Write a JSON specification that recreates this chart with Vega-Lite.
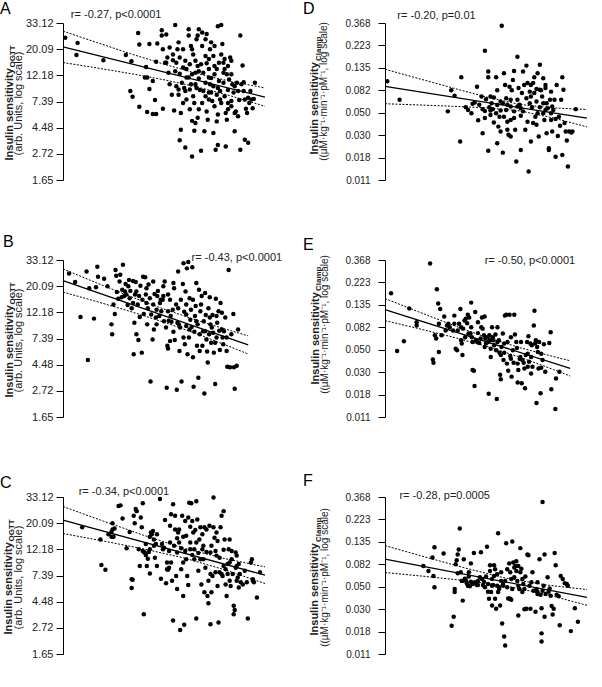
{
"$schema": "https://vega.github.io/schema/vega-lite/v6.json",
"background": "white",
"autosize": {"type": "pad"},
"padding": {"left": 0, "top": 0, "right": 0, "bottom": 0},
"columns": 2,
"spacing": {"row": 80, "column": 120},
"bounds": "flush",
"config": {
  "font": "Liberation Sans",
  "view": {"stroke": null},
  "axis": {"domainColor": "#000", "tickColor": "#000", "domainWidth": 1, "tickWidth": 1, "labelColor": "#222", "titleColor": "#222", "labelFontSize": 11, "titleFontSize": 11, "titleFontWeight": "normal", "grid": false, "labelFlush": false, "labelOverlap": false},
  "axisX": {"tickSize": 5, "titleAlign": "center", "titleBaseline": "middle"},
  "axisY": {"tickSize": 7, "labelPadding": 3, "titleAngle": 270, "titleAlign": "center", "titleBaseline": "alphabetic"},
  "title": {"fontSize": 16, "fontWeight": "normal", "color": "#000", "anchor": "start", "frame": "group", "offset": 0},
  "text": {"fontSize": 11, "color": "#222"},
  "circle": {"size": 20, "opacity": 1, "color": "#000"},
  "line": {"color": "#000"}
},
"datasets": {
"ptsA": [{"x":2.22,"y":3.22},{"x":2.33,"y":3.12},{"x":2.32,"y":2.89},{"x":2.56,"y":2.79},{"x":2.76,"y":2.89},{"x":2.81,"y":2.77},{"x":2.80,"y":2.20},{"x":2.82,"y":2.09},{"x":2.87,"y":3.31},{"x":2.88,"y":3.09},{"x":2.88,"y":1.90},{"x":2.94,"y":2.66},{"x":2.93,"y":2.46},{"x":2.97,"y":3.10},{"x":2.97,"y":2.24},{"x":3.02,"y":2.03},{"x":3.03,"y":2.76},{"x":3.04,"y":3.11},{"x":2.95,"y":1.80},{"x":3.00,"y":1.76},{"x":3.03,"y":1.76},{"x":3.00,"y":2.39},{"x":2.95,"y":2.46},{"x":3.08,"y":3.26},{"x":3.08,"y":3.36},{"x":3.09,"y":3.00},{"x":3.11,"y":2.74},{"x":3.12,"y":3.28},{"x":3.13,"y":2.84},{"x":3.14,"y":2.55},{"x":3.15,"y":2.33},{"x":3.09,"y":1.86},{"x":3.18,"y":2.90},{"x":3.18,"y":2.79},{"x":3.17,"y":2.13},{"x":3.19,"y":1.83},{"x":3.20,"y":3.46},{"x":3.21,"y":2.74},{"x":3.22,"y":3.00},{"x":3.23,"y":2.23},{"x":3.23,"y":2.13},{"x":3.24,"y":2.53},{"x":3.24,"y":1.26},{"x":3.25,"y":1.78},{"x":3.25,"y":1.46},{"x":3.26,"y":2.36},{"x":3.27,"y":2.65},{"x":3.27,"y":3.00},{"x":3.28,"y":2.26},{"x":3.29,"y":1.12},{"x":3.29,"y":2.20},{"x":3.30,"y":2.46},{"x":3.30,"y":2.04},{"x":3.32,"y":3.26},{"x":3.32,"y":3.38},{"x":3.33,"y":2.71},{"x":3.34,"y":3.06},{"x":3.34,"y":2.33},{"x":3.35,"y":1.63},{"x":3.35,"y":0.95},{"x":3.36,"y":2.10},{"x":3.37,"y":1.97},{"x":3.37,"y":1.44},{"x":3.38,"y":2.55},{"x":3.38,"y":2.78},{"x":3.39,"y":3.19},{"x":3.40,"y":3.26},{"x":3.40,"y":2.68},{"x":3.40,"y":1.69},{"x":3.41,"y":3.38},{"x":3.41,"y":2.44},{"x":3.42,"y":2.22},{"x":3.43,"y":1.06},{"x":3.44,"y":3.06},{"x":3.44,"y":1.97},{"x":3.45,"y":2.20},{"x":3.46,"y":1.43},{"x":3.47,"y":3.19},{"x":3.47,"y":2.87},{"x":3.47,"y":2.36},{"x":3.48,"y":2.73},{"x":3.49,"y":1.65},{"x":3.50,"y":2.62},{"x":3.50,"y":2.04},{"x":3.50,"y":2.17},{"x":3.51,"y":3.00},{"x":3.52,"y":2.45},{"x":3.52,"y":3.13},{"x":3.53,"y":2.01},{"x":3.54,"y":2.87},{"x":3.54,"y":2.29},{"x":3.55,"y":2.68},{"x":3.55,"y":1.91},{"x":3.56,"y":1.08},{"x":3.57,"y":2.13},{"x":3.57,"y":1.62},{"x":3.58,"y":1.17},{"x":3.58,"y":3.44},{"x":3.59,"y":2.74},{"x":3.59,"y":2.39},{"x":3.60,"y":2.04},{"x":3.61,"y":2.90},{"x":3.61,"y":3.46},{"x":3.62,"y":3.10},{"x":3.63,"y":2.55},{"x":3.63,"y":2.36},{"x":3.64,"y":2.62},{"x":3.64,"y":2.81},{"x":3.65,"y":1.78},{"x":3.65,"y":1.14},{"x":3.66,"y":1.65},{"x":3.67,"y":2.22},{"x":3.67,"y":1.97},{"x":3.68,"y":2.42},{"x":3.69,"y":2.84},{"x":3.70,"y":2.01},{"x":3.70,"y":2.52},{"x":3.71,"y":2.33},{"x":3.72,"y":2.17},{"x":3.73,"y":1.43},{"x":3.73,"y":1.78},{"x":3.74,"y":1.81},{"x":3.75,"y":2.36},{"x":3.76,"y":1.72},{"x":3.77,"y":2.03},{"x":3.78,"y":3.26},{"x":3.78,"y":1.08},{"x":3.79,"y":2.33},{"x":3.80,"y":2.69},{"x":3.81,"y":2.37},{"x":3.82,"y":1.27},{"x":3.82,"y":2.04},{"x":3.83,"y":1.86},{"x":3.84,"y":1.78},{"x":3.85,"y":2.07},{"x":3.85,"y":1.21},{"x":3.86,"y":1.97},{"x":3.88,"y":2.04},{"x":3.89,"y":1.87},{"x":3.90,"y":2.05},{"x":3.91,"y":2.36},{"x":3.12,"y":2.74},{"x":3.15,"y":3.03},{"x":3.23,"y":3.13},{"x":3.24,"y":2.84},{"x":3.29,"y":2.78},{"x":3.30,"y":2.62},{"x":3.32,"y":2.46},{"x":3.33,"y":2.23},{"x":3.35,"y":2.52},{"x":3.36,"y":2.90},{"x":3.38,"y":2.33},{"x":3.39,"y":2.26},{"x":3.41,"y":2.58},{"x":3.43,"y":2.71},{"x":3.45,"y":2.55},{"x":3.47,"y":2.10},{"x":3.48,"y":1.81},{"x":3.50,"y":2.46},{"x":3.51,"y":2.33},{"x":3.52,"y":2.17},{"x":3.55,"y":2.52},{"x":3.57,"y":2.62},{"x":3.58,"y":2.26},{"x":3.60,"y":2.20},{"x":3.61,"y":1.97},{"x":3.63,"y":2.74},{"x":3.64,"y":2.10},{"x":3.66,"y":2.52},{"x":3.67,"y":2.68},{"x":3.70,"y":1.91},{"x":3.73,"y":2.29},{"x":3.76,"y":2.20},{"x":3.67,"y":1.85},{"x":3.41,"y":1.85},{"x":3.33,"y":1.85},{"x":3.27,"y":1.97},{"x":3.21,"y":2.29},{"x":3.20,"y":2.58},{"x":3.44,"y":3.32},{"x":3.35,"y":3.00},{"x":3.55,"y":3.06},{"x":3.48,"y":3.29},{"x":3.70,"y":2.78},{"x":3.58,"y":1.75},{"x":3.54,"y":1.40},{"x":3.81,"y":2.20},{"x":3.87,"y":2.20},{"x":3.50,"y":2.81},{"x":3.38,"y":1.59}],
"fitA": [{"x":2.2,"y":3.045},{"x":4.0,"y":2.083}],
"bandA": [{"x":2.2,"y":3.345,"bound":"upper"},{"x":2.5,"y":3.128,"bound":"upper"},{"x":2.8,"y":2.914,"bound":"upper"},{"x":3.1,"y":2.713,"bound":"upper"},{"x":3.4,"y":2.532,"bound":"upper"},{"x":3.7,"y":2.382,"bound":"upper"},{"x":4.0,"y":2.258,"bound":"upper"},{"x":2.2,"y":2.745,"bound":"lower"},{"x":2.5,"y":2.642,"bound":"lower"},{"x":2.8,"y":2.534,"bound":"lower"},{"x":3.1,"y":2.415,"bound":"lower"},{"x":3.4,"y":2.276,"bound":"lower"},{"x":3.7,"y":2.104,"bound":"lower"},{"x":4.0,"y":1.908,"bound":"lower"}],
"ptsD": [{"x":2.22,"y":-2.30},{"x":2.33,"y":-2.71},{"x":2.76,"y":-2.97},{"x":2.79,"y":-2.50},{"x":2.82,"y":-2.62},{"x":2.88,"y":-2.21},{"x":2.87,"y":-3.64},{"x":2.92,"y":-2.88},{"x":2.94,"y":-2.94},{"x":2.97,"y":-3.01},{"x":2.98,"y":-2.80},{"x":3.00,"y":-2.77},{"x":3.02,"y":-2.42},{"x":3.03,"y":-3.17},{"x":3.04,"y":-2.82},{"x":3.07,"y":-2.92},{"x":3.09,"y":-1.62},{"x":3.09,"y":-3.12},{"x":3.09,"y":-2.96},{"x":3.10,"y":-2.70},{"x":3.12,"y":-2.08},{"x":3.12,"y":-2.21},{"x":3.12,"y":-3.85},{"x":3.13,"y":-2.88},{"x":3.14,"y":-2.95},{"x":3.14,"y":-2.64},{"x":3.15,"y":-2.79},{"x":3.16,"y":-2.92},{"x":3.17,"y":-3.22},{"x":3.17,"y":-2.66},{"x":3.19,"y":-2.21},{"x":3.20,"y":-2.83},{"x":3.20,"y":-2.50},{"x":3.21,"y":-3.31},{"x":3.22,"y":-3.09},{"x":3.23,"y":-3.42},{"x":3.23,"y":-2.75},{"x":3.24,"y":-1.06},{"x":3.25,"y":-3.89},{"x":3.25,"y":-2.79},{"x":3.26,"y":-2.12},{"x":3.27,"y":-2.38},{"x":3.28,"y":-2.94},{"x":3.29,"y":-3.20},{"x":3.29,"y":-3.38},{"x":3.30,"y":-3.49},{"x":3.31,"y":-2.42},{"x":3.32,"y":-2.71},{"x":3.32,"y":-2.86},{"x":3.33,"y":-2.50},{"x":3.34,"y":-2.27},{"x":3.35,"y":-3.12},{"x":3.35,"y":-2.07},{"x":3.36,"y":-3.38},{"x":3.37,"y":-4.09},{"x":3.38,"y":-2.71},{"x":3.38,"y":-1.75},{"x":3.39,"y":-2.45},{"x":3.40,"y":-2.82},{"x":3.41,"y":-3.07},{"x":3.41,"y":-3.83},{"x":3.42,"y":-2.56},{"x":3.43,"y":-2.08},{"x":3.43,"y":-2.97},{"x":3.44,"y":-2.38},{"x":3.45,"y":-3.38},{"x":3.46,"y":-1.95},{"x":3.46,"y":-2.68},{"x":3.47,"y":-3.20},{"x":3.48,"y":-4.31},{"x":3.49,"y":-2.79},{"x":3.49,"y":-2.53},{"x":3.50,"y":-3.64},{"x":3.51,"y":-2.88},{"x":3.52,"y":-2.34},{"x":3.53,"y":-2.21},{"x":3.53,"y":-2.56},{"x":3.54,"y":-3.09},{"x":3.55,"y":-2.75},{"x":3.55,"y":-2.47},{"x":3.56,"y":-3.01},{"x":3.57,"y":-3.53},{"x":3.58,"y":-1.93},{"x":3.58,"y":-2.88},{"x":3.59,"y":-2.50},{"x":3.60,"y":-2.64},{"x":3.61,"y":-2.23},{"x":3.61,"y":-2.79},{"x":3.62,"y":-3.16},{"x":3.63,"y":-2.45},{"x":3.63,"y":-2.94},{"x":3.64,"y":-3.46},{"x":3.65,"y":-2.90},{"x":3.66,"y":-3.79},{"x":3.66,"y":-3.83},{"x":3.67,"y":-2.71},{"x":3.68,"y":-3.16},{"x":3.69,"y":-3.42},{"x":3.69,"y":-2.86},{"x":3.70,"y":-2.94},{"x":3.71,"y":-2.71},{"x":3.72,"y":-3.14},{"x":3.72,"y":-3.98},{"x":3.73,"y":-2.38},{"x":3.74,"y":-3.52},{"x":3.75,"y":-3.09},{"x":3.76,"y":-3.29},{"x":3.77,"y":-2.71},{"x":3.78,"y":-2.21},{"x":3.78,"y":-3.94},{"x":3.79,"y":-2.49},{"x":3.80,"y":-3.23},{"x":3.81,"y":-3.42},{"x":3.82,"y":-3.62},{"x":3.83,"y":-4.20},{"x":3.84,"y":-3.42},{"x":3.86,"y":-3.44},{"x":3.87,"y":-3.42},{"x":3.90,"y":-2.92},{"x":3.23,"y":-2.95},{"x":3.19,"y":-3.01},{"x":3.26,"y":-3.09},{"x":3.35,"y":-2.97},{"x":3.50,"y":-2.38},{"x":3.55,"y":-3.27},{"x":3.58,"y":-2.49},{"x":3.61,"y":-3.01},{"x":3.47,"y":-2.34},{"x":3.38,"y":-2.86},{"x":3.14,"y":-3.05},{"x":3.32,"y":-3.16},{"x":3.50,"y":-2.64},{"x":3.64,"y":-2.79},{"x":3.56,"y":-2.12},{"x":3.63,"y":-2.38},{"x":3.68,"y":-2.53},{"x":3.52,"y":-3.23},{"x":3.29,"y":-2.82},{"x":3.41,"y":-2.90},{"x":3.20,"y":-3.68},{"x":3.07,"y":-3.46},{"x":3.32,"y":-3.53},{"x":3.06,"y":-2.64},{"x":3.28,"y":-2.68},{"x":3.68,"y":-3.01}],
"fitD": [{"x":2.2,"y":-2.415},{"x":4.0,"y":-3.122}],
"bandD": [{"x":2.2,"y":-2.030,"bound":"upper"},{"x":2.5,"y":-2.239,"bound":"upper"},{"x":2.8,"y":-2.446,"bound":"upper"},{"x":3.1,"y":-2.647,"bound":"upper"},{"x":3.4,"y":-2.816,"bound":"upper"},{"x":3.7,"y":-2.893,"bound":"upper"},{"x":4.0,"y":-2.929,"bound":"upper"},{"x":2.2,"y":-2.800,"bound":"lower"},{"x":2.5,"y":-2.827,"bound":"lower"},{"x":2.8,"y":-2.856,"bound":"lower"},{"x":3.1,"y":-2.891,"bound":"lower"},{"x":3.4,"y":-2.958,"bound":"lower"},{"x":3.7,"y":-3.117,"bound":"lower"},{"x":4.0,"y":-3.315,"bound":"lower"}],
"ptsB": [{"x":-0.41,"y":3.24},{"x":-0.32,"y":3.08},{"x":-0.24,"y":2.41},{"x":-0.15,"y":3.28},{"x":-0.13,"y":1.59},{"x":-0.11,"y":2.96},{"x":-0.04,"y":2.38},{"x":-0.01,"y":2.98},{"x":0.01,"y":3.37},{"x":0.02,"y":3.18},{"x":0.11,"y":3.14},{"x":0.16,"y":3.00},{"x":0.22,"y":2.27},{"x":0.23,"y":2.08},{"x":0.25,"y":2.65},{"x":0.27,"y":2.47},{"x":0.28,"y":3.31},{"x":0.29,"y":3.20},{"x":0.30,"y":2.89},{"x":0.32,"y":2.76},{"x":0.34,"y":3.09},{"x":0.35,"y":3.22},{"x":0.37,"y":2.79},{"x":0.38,"y":2.93},{"x":0.39,"y":3.41},{"x":0.41,"y":2.81},{"x":0.42,"y":2.90},{"x":0.43,"y":3.04},{"x":0.44,"y":2.84},{"x":0.46,"y":2.64},{"x":0.48,"y":3.12},{"x":0.49,"y":2.77},{"x":0.50,"y":2.91},{"x":0.52,"y":2.58},{"x":0.54,"y":3.10},{"x":0.55,"y":1.70},{"x":0.56,"y":2.30},{"x":0.57,"y":2.84},{"x":0.58,"y":3.08},{"x":0.59,"y":2.08},{"x":0.61,"y":2.65},{"x":0.62,"y":1.97},{"x":0.63,"y":2.81},{"x":0.64,"y":2.41},{"x":0.65,"y":3.01},{"x":0.67,"y":1.73},{"x":0.68,"y":2.74},{"x":0.69,"y":3.18},{"x":0.70,"y":2.47},{"x":0.72,"y":3.17},{"x":0.73,"y":2.84},{"x":0.74,"y":2.68},{"x":0.75,"y":2.27},{"x":0.76,"y":2.58},{"x":0.77,"y":3.03},{"x":0.79,"y":2.77},{"x":0.80,"y":1.18},{"x":0.81,"y":2.46},{"x":0.83,"y":1.98},{"x":0.84,"y":2.65},{"x":0.85,"y":2.17},{"x":0.86,"y":2.85},{"x":0.88,"y":2.40},{"x":0.89,"y":2.55},{"x":0.90,"y":2.81},{"x":0.91,"y":2.91},{"x":0.93,"y":2.43},{"x":0.94,"y":2.68},{"x":0.95,"y":2.74},{"x":0.96,"y":2.52},{"x":0.98,"y":2.74},{"x":0.99,"y":3.00},{"x":1.00,"y":2.33},{"x":1.01,"y":3.09},{"x":1.03,"y":2.21},{"x":1.04,"y":1.06},{"x":1.05,"y":1.86},{"x":1.06,"y":1.81},{"x":1.06,"y":2.52},{"x":1.07,"y":2.34},{"x":1.09,"y":2.74},{"x":1.10,"y":2.43},{"x":1.11,"y":2.32},{"x":1.13,"y":2.55},{"x":1.14,"y":2.13},{"x":1.15,"y":2.96},{"x":1.16,"y":1.97},{"x":1.18,"y":2.65},{"x":1.19,"y":1.02},{"x":1.20,"y":2.30},{"x":1.21,"y":3.28},{"x":1.22,"y":2.27},{"x":1.23,"y":1.76},{"x":1.24,"y":2.21},{"x":1.25,"y":2.74},{"x":1.26,"y":1.18},{"x":1.28,"y":3.04},{"x":1.29,"y":3.44},{"x":1.30,"y":2.51},{"x":1.31,"y":1.89},{"x":1.32,"y":2.90},{"x":1.33,"y":2.24},{"x":1.33,"y":2.46},{"x":1.34,"y":3.34},{"x":1.35,"y":1.70},{"x":1.36,"y":3.46},{"x":1.37,"y":2.02},{"x":1.38,"y":2.77},{"x":1.39,"y":2.36},{"x":1.40,"y":2.55},{"x":1.41,"y":2.22},{"x":1.42,"y":3.36},{"x":1.43,"y":2.74},{"x":1.44,"y":1.08},{"x":1.45,"y":2.13},{"x":1.46,"y":2.43},{"x":1.47,"y":2.62},{"x":1.48,"y":3.06},{"x":1.49,"y":1.86},{"x":1.50,"y":2.27},{"x":1.51,"y":1.25},{"x":1.52,"y":2.93},{"x":1.53,"y":2.08},{"x":1.54,"y":2.52},{"x":1.55,"y":2.65},{"x":1.56,"y":2.81},{"x":1.57,"y":1.86},{"x":1.58,"y":2.14},{"x":1.59,"y":2.33},{"x":1.60,"y":0.95},{"x":1.61,"y":2.87},{"x":1.62,"y":2.45},{"x":1.63,"y":1.98},{"x":1.64,"y":1.75},{"x":1.65,"y":1.54},{"x":1.66,"y":2.58},{"x":1.67,"y":2.08},{"x":1.68,"y":2.79},{"x":1.69,"y":2.27},{"x":1.70,"y":1.92},{"x":1.71,"y":2.21},{"x":1.72,"y":2.45},{"x":1.73,"y":2.11},{"x":1.74,"y":1.73},{"x":1.76,"y":1.13},{"x":1.77,"y":2.76},{"x":1.78,"y":2.02},{"x":1.79,"y":2.30},{"x":1.81,"y":2.52},{"x":1.82,"y":2.15},{"x":1.83,"y":1.78},{"x":1.84,"y":2.68},{"x":1.86,"y":2.17},{"x":1.87,"y":2.02},{"x":1.88,"y":1.89},{"x":1.89,"y":2.14},{"x":1.91,"y":2.40},{"x":1.93,"y":2.02},{"x":1.94,"y":1.46},{"x":1.96,"y":3.31},{"x":1.98,"y":1.45},{"x":2.00,"y":2.08},{"x":2.03,"y":2.47},{"x":2.04,"y":1.45},{"x":2.05,"y":1.04},{"x":2.08,"y":1.48},{"x":2.10,"y":2.17},{"x":1.14,"y":3.06},{"x":0.99,"y":2.81},{"x":0.74,"y":2.96},{"x":0.59,"y":2.90},{"x":1.48,"y":2.33},{"x":1.33,"y":2.65},{"x":1.68,"y":2.40},{"x":1.53,"y":1.76},{"x":1.38,"y":2.17},{"x":1.29,"y":2.02},{"x":1.09,"y":1.95},{"x":0.89,"y":2.27},{"x":0.84,"y":3.09},{"x":0.47,"y":3.00},{"x":0.54,"y":2.68},{"x":1.78,"y":2.43},{"x":1.93,"y":1.76},{"x":1.76,"y":1.92},{"x":1.61,"y":2.14},{"x":1.21,"y":2.58},{"x":1.06,"y":2.84},{"x":1.43,"y":1.64},{"x":1.86,"y":2.49}],
"fitB": [{"x":-0.5,"y":3.108},{"x":2.25,"y":1.877}],
"bandB": [{"x":-0.5,"y":3.329,"bound":"upper"},{"x":0,"y":3.062,"bound":"upper"},{"x":0.5,"y":2.803,"bound":"upper"},{"x":1.0,"y":2.562,"bound":"upper"},{"x":1.5,"y":2.343,"bound":"upper"},{"x":2.0,"y":2.145,"bound":"upper"},{"x":2.25,"y":2.051,"bound":"upper"},{"x":-0.5,"y":2.887,"bound":"lower"},{"x":0,"y":2.706,"bound":"lower"},{"x":0.5,"y":2.517,"bound":"lower"},{"x":1.0,"y":2.312,"bound":"lower"},{"x":1.5,"y":2.083,"bound":"lower"},{"x":2.0,"y":1.833,"bound":"lower"},{"x":2.25,"y":1.703,"bound":"lower"}],
"ptsE": [{"x":-0.41,"y":-1.74},{"x":-0.32,"y":-3.03},{"x":-0.22,"y":-2.81},{"x":-0.14,"y":-2.08},{"x":-0.03,"y":-2.39},{"x":-0.03,"y":-2.46},{"x":0.17,"y":-1.08},{"x":0.21,"y":-3.22},{"x":0.22,"y":-3.29},{"x":0.24,"y":-2.68},{"x":0.26,"y":-2.75},{"x":0.27,"y":-1.65},{"x":0.29,"y":-1.97},{"x":0.30,"y":-2.42},{"x":0.30,"y":-3.05},{"x":0.32,"y":-2.09},{"x":0.34,"y":-2.68},{"x":0.38,"y":-2.26},{"x":0.40,"y":-2.57},{"x":0.42,"y":-2.46},{"x":0.44,"y":-2.42},{"x":0.46,"y":-2.50},{"x":0.51,"y":-2.57},{"x":0.53,"y":-2.24},{"x":0.55,"y":-2.98},{"x":0.57,"y":-3.01},{"x":0.58,"y":-2.57},{"x":0.60,"y":-2.42},{"x":0.62,"y":-2.09},{"x":0.63,"y":-2.79},{"x":0.64,"y":-2.86},{"x":0.65,"y":-3.12},{"x":0.66,"y":-2.53},{"x":0.68,"y":-2.35},{"x":0.69,"y":-2.72},{"x":0.70,"y":-2.31},{"x":0.72,"y":-2.41},{"x":0.73,"y":-2.22},{"x":0.74,"y":-2.64},{"x":0.75,"y":-2.28},{"x":0.77,"y":-2.64},{"x":0.78,"y":-1.95},{"x":0.79,"y":-2.72},{"x":0.80,"y":-2.83},{"x":0.80,"y":-3.45},{"x":0.82,"y":-3.47},{"x":0.83,"y":-3.81},{"x":0.84,"y":-2.16},{"x":0.85,"y":-2.79},{"x":0.87,"y":-2.83},{"x":0.88,"y":-2.63},{"x":0.90,"y":-2.85},{"x":0.92,"y":-2.75},{"x":0.93,"y":-2.50},{"x":0.94,"y":-2.28},{"x":0.95,"y":-2.53},{"x":0.97,"y":-2.68},{"x":0.98,"y":-2.26},{"x":0.99,"y":-2.75},{"x":1.00,"y":-2.86},{"x":1.02,"y":-2.72},{"x":1.03,"y":-2.83},{"x":1.04,"y":-3.98},{"x":1.05,"y":-2.68},{"x":1.06,"y":-2.79},{"x":1.07,"y":-3.16},{"x":1.09,"y":-2.50},{"x":1.10,"y":-2.72},{"x":1.11,"y":-2.79},{"x":1.12,"y":-2.90},{"x":1.14,"y":-2.66},{"x":1.15,"y":-3.01},{"x":1.16,"y":-4.10},{"x":1.17,"y":-2.83},{"x":1.19,"y":-2.79},{"x":1.20,"y":-3.07},{"x":1.21,"y":-3.56},{"x":1.22,"y":-3.66},{"x":1.23,"y":-2.94},{"x":1.25,"y":-2.64},{"x":1.26,"y":-3.23},{"x":1.27,"y":-3.07},{"x":1.28,"y":-2.24},{"x":1.30,"y":-2.22},{"x":1.31,"y":-3.31},{"x":1.32,"y":-2.83},{"x":1.33,"y":-3.47},{"x":1.35,"y":-2.22},{"x":1.36,"y":-3.14},{"x":1.37,"y":-3.20},{"x":1.38,"y":-3.60},{"x":1.40,"y":-3.01},{"x":1.41,"y":-3.29},{"x":1.42,"y":-2.22},{"x":1.43,"y":-2.66},{"x":1.45,"y":-2.83},{"x":1.46,"y":-2.96},{"x":1.47,"y":-3.73},{"x":1.48,"y":-3.45},{"x":1.50,"y":-3.20},{"x":1.51,"y":-3.16},{"x":1.52,"y":-2.83},{"x":1.53,"y":-3.75},{"x":1.54,"y":-3.23},{"x":1.56,"y":-3.29},{"x":1.57,"y":-3.42},{"x":1.58,"y":-3.86},{"x":1.59,"y":-3.12},{"x":1.61,"y":-2.83},{"x":1.62,"y":-3.38},{"x":1.63,"y":-2.70},{"x":1.64,"y":-3.27},{"x":1.66,"y":-2.86},{"x":1.67,"y":-3.16},{"x":1.68,"y":-2.90},{"x":1.69,"y":-3.38},{"x":1.71,"y":-2.46},{"x":1.72,"y":-2.13},{"x":1.73,"y":-2.86},{"x":1.74,"y":-2.79},{"x":1.75,"y":-4.19},{"x":1.76,"y":-2.94},{"x":1.77,"y":-3.05},{"x":1.78,"y":-3.42},{"x":1.79,"y":-2.83},{"x":1.81,"y":-3.97},{"x":1.82,"y":-3.40},{"x":1.84,"y":-3.23},{"x":1.86,"y":-2.88},{"x":1.88,"y":-3.49},{"x":1.94,"y":-2.85},{"x":1.96,"y":-2.61},{"x":1.97,"y":-3.88},{"x":2.03,"y":-4.32},{"x":2.04,"y":-3.64},{"x":2.09,"y":-3.49},{"x":0.78,"y":-2.50},{"x":0.98,"y":-2.94},{"x":1.17,"y":-2.50},{"x":1.37,"y":-2.72},{"x":1.62,"y":-3.09},{"x":0.88,"y":-2.39},{"x":1.07,"y":-2.98},{"x":1.27,"y":-2.86},{"x":1.47,"y":-3.31},{"x":1.67,"y":-3.53},{"x":0.53,"y":-2.42},{"x":0.63,"y":-2.50},{"x":1.22,"y":-3.12},{"x":1.82,"y":-3.09}],
"fitE": [{"x":-0.5,"y":-2.105},{"x":2.25,"y":-3.417}],
"bandE": [{"x":-0.5,"y":-1.859,"bound":"upper"},{"x":0,"y":-2.156,"bound":"upper"},{"x":0.5,"y":-2.448,"bound":"upper"},{"x":1.0,"y":-2.720,"bound":"upper"},{"x":1.5,"y":-2.953,"bound":"upper"},{"x":2.0,"y":-3.153,"bound":"upper"},{"x":2.25,"y":-3.247,"bound":"upper"},{"x":-0.5,"y":-2.351,"bound":"lower"},{"x":0,"y":-2.530,"bound":"lower"},{"x":0.5,"y":-2.716,"bound":"lower"},{"x":1.0,"y":-2.920,"bound":"lower"},{"x":1.5,"y":-3.163,"bound":"lower"},{"x":2.0,"y":-3.441,"bound":"lower"},{"x":2.25,"y":-3.587,"bound":"lower"}],
"ptsC": [{"x":1.39,"y":2.92},{"x":1.57,"y":2.69},{"x":1.58,"y":2.20},{"x":1.62,"y":2.11},{"x":1.65,"y":2.79},{"x":1.68,"y":2.83},{"x":1.68,"y":2.74},{"x":1.69,"y":3.00},{"x":1.69,"y":2.88},{"x":1.70,"y":2.74},{"x":1.71,"y":2.90},{"x":1.75,"y":3.33},{"x":1.77,"y":3.34},{"x":1.79,"y":3.09},{"x":1.83,"y":2.52},{"x":1.86,"y":2.83},{"x":1.88,"y":1.76},{"x":1.88,"y":1.93},{"x":1.89,"y":1.92},{"x":1.90,"y":3.14},{"x":1.91,"y":3.00},{"x":1.92,"y":3.27},{"x":1.93,"y":3.23},{"x":1.95,"y":2.50},{"x":1.96,"y":2.18},{"x":1.97,"y":3.11},{"x":1.98,"y":2.92},{"x":1.99,"y":3.38},{"x":1.99,"y":2.47},{"x":2.00,"y":1.26},{"x":2.00,"y":2.45},{"x":2.01,"y":2.44},{"x":2.02,"y":2.60},{"x":2.02,"y":2.39},{"x":2.03,"y":2.18},{"x":2.04,"y":2.32},{"x":2.05,"y":2.45},{"x":2.06,"y":2.04},{"x":2.06,"y":2.74},{"x":2.07,"y":2.82},{"x":2.08,"y":2.79},{"x":2.09,"y":2.85},{"x":2.10,"y":2.69},{"x":2.10,"y":2.57},{"x":2.11,"y":2.34},{"x":2.12,"y":2.60},{"x":2.13,"y":2.79},{"x":2.16,"y":3.46},{"x":2.17,"y":1.94},{"x":2.18,"y":2.60},{"x":2.19,"y":2.50},{"x":2.20,"y":2.53},{"x":2.21,"y":3.06},{"x":2.22,"y":1.85},{"x":2.23,"y":2.12},{"x":2.23,"y":2.25},{"x":2.24,"y":2.11},{"x":2.25,"y":2.47},{"x":2.25,"y":2.15},{"x":2.26,"y":2.95},{"x":2.27,"y":2.25},{"x":2.27,"y":3.17},{"x":2.28,"y":1.90},{"x":2.29,"y":1.14},{"x":2.29,"y":3.36},{"x":2.30,"y":2.57},{"x":2.31,"y":3.14},{"x":2.31,"y":2.88},{"x":2.32,"y":1.99},{"x":2.33,"y":2.71},{"x":2.33,"y":1.74},{"x":2.34,"y":2.82},{"x":2.35,"y":2.63},{"x":2.35,"y":2.88},{"x":2.36,"y":0.96},{"x":2.37,"y":2.12},{"x":2.37,"y":2.52},{"x":2.38,"y":3.14},{"x":2.39,"y":2.74},{"x":2.39,"y":1.61},{"x":2.40,"y":1.06},{"x":2.41,"y":2.47},{"x":2.41,"y":3.04},{"x":2.42,"y":2.31},{"x":2.42,"y":2.76},{"x":2.43,"y":1.99},{"x":2.44,"y":3.11},{"x":2.44,"y":1.82},{"x":2.45,"y":3.39},{"x":2.46,"y":2.93},{"x":2.46,"y":2.63},{"x":2.47,"y":3.38},{"x":2.48,"y":2.39},{"x":2.48,"y":3.04},{"x":2.49,"y":2.82},{"x":2.50,"y":2.31},{"x":2.50,"y":2.50},{"x":2.51,"y":2.87},{"x":2.52,"y":3.42},{"x":2.52,"y":1.18},{"x":2.53,"y":3.07},{"x":2.54,"y":2.09},{"x":2.54,"y":2.43},{"x":2.55,"y":2.69},{"x":2.56,"y":2.92},{"x":2.56,"y":2.31},{"x":2.57,"y":1.83},{"x":2.58,"y":2.50},{"x":2.58,"y":2.79},{"x":2.59,"y":2.57},{"x":2.60,"y":2.92},{"x":2.60,"y":1.68},{"x":2.61,"y":2.15},{"x":2.62,"y":2.45},{"x":2.62,"y":2.88},{"x":2.63,"y":1.61},{"x":2.64,"y":1.90},{"x":2.64,"y":1.47},{"x":2.65,"y":2.95},{"x":2.66,"y":2.03},{"x":2.66,"y":1.07},{"x":2.67,"y":1.68},{"x":2.67,"y":2.57},{"x":2.68,"y":1.99},{"x":2.69,"y":2.92},{"x":2.69,"y":3.49},{"x":2.70,"y":2.72},{"x":2.71,"y":2.06},{"x":2.71,"y":2.47},{"x":2.72,"y":2.82},{"x":2.73,"y":1.80},{"x":2.73,"y":2.66},{"x":2.74,"y":1.10},{"x":2.75,"y":2.34},{"x":2.75,"y":2.06},{"x":2.76,"y":2.92},{"x":2.77,"y":2.03},{"x":2.77,"y":3.14},{"x":2.78,"y":1.99},{"x":2.79,"y":2.49},{"x":2.79,"y":3.23},{"x":2.80,"y":2.69},{"x":2.81,"y":2.12},{"x":2.81,"y":1.83},{"x":2.82,"y":1.61},{"x":2.83,"y":2.03},{"x":2.83,"y":2.22},{"x":2.84,"y":2.50},{"x":2.85,"y":1.90},{"x":2.85,"y":2.69},{"x":2.86,"y":1.80},{"x":2.87,"y":2.47},{"x":2.87,"y":2.31},{"x":2.88,"y":2.03},{"x":2.89,"y":1.42},{"x":2.89,"y":1.26},{"x":2.90,"y":1.34},{"x":2.91,"y":2.15},{"x":2.91,"y":2.44},{"x":2.92,"y":1.90},{"x":2.92,"y":2.38},{"x":2.93,"y":1.96},{"x":2.94,"y":2.22},{"x":2.94,"y":1.77},{"x":2.95,"y":2.03},{"x":2.96,"y":1.87},{"x":2.98,"y":1.83},{"x":3.00,"y":2.09},{"x":3.02,"y":1.87},{"x":3.03,"y":1.18},{"x":3.06,"y":2.25},{"x":3.07,"y":2.31},{"x":3.08,"y":1.93},{"x":3.08,"y":1.90},{"x":3.09,"y":1.87},{"x":3.12,"y":1.58},{"x":3.15,"y":2.06},{"x":2.33,"y":2.44},{"x":2.46,"y":2.50},{"x":2.59,"y":2.31},{"x":2.72,"y":2.38},{"x":2.85,"y":2.25},{"x":2.26,"y":2.63},{"x":2.39,"y":2.25},{"x":2.52,"y":2.63},{"x":2.66,"y":2.44},{"x":2.79,"y":2.18},{"x":2.92,"y":2.18},{"x":2.13,"y":2.18},{"x":2.06,"y":2.50}],
"fitC": [{"x":1.2,"y":3.060},{"x":3.2,"y":2.006}],
"bandC": [{"x":1.2,"y":3.318,"bound":"upper"},{"x":1.6,"y":3.039,"bound":"upper"},{"x":2.0,"y":2.768,"bound":"upper"},{"x":2.4,"y":2.520,"bound":"upper"},{"x":2.8,"y":2.324,"bound":"upper"},{"x":3.2,"y":2.165,"bound":"upper"},{"x":1.2,"y":2.802,"bound":"lower"},{"x":1.6,"y":2.659,"bound":"lower"},{"x":2.0,"y":2.508,"bound":"lower"},{"x":2.4,"y":2.334,"bound":"lower"},{"x":2.8,"y":2.110,"bound":"lower"},{"x":3.2,"y":1.847,"bound":"lower"}],
"ptsF": [{"x":1.58,"y":-2.54},{"x":1.63,"y":-2.65},{"x":1.67,"y":-2.35},{"x":1.68,"y":-2.76},{"x":1.69,"y":-2.12},{"x":1.69,"y":-3.01},{"x":1.78,"y":-2.26},{"x":1.86,"y":-3.87},{"x":1.88,"y":-3.67},{"x":1.89,"y":-3.05},{"x":1.89,"y":-3.12},{"x":1.90,"y":-2.50},{"x":1.91,"y":-2.41},{"x":1.92,"y":-2.28},{"x":1.92,"y":-2.70},{"x":1.93,"y":-2.17},{"x":1.94,"y":-1.70},{"x":1.95,"y":-2.68},{"x":1.96,"y":-2.87},{"x":1.97,"y":-2.87},{"x":1.97,"y":-3.31},{"x":1.98,"y":-2.39},{"x":1.99,"y":-2.83},{"x":1.99,"y":-2.82},{"x":2.00,"y":-2.85},{"x":2.01,"y":-2.92},{"x":2.02,"y":-2.98},{"x":2.03,"y":-2.77},{"x":2.03,"y":-2.68},{"x":2.04,"y":-2.99},{"x":2.05,"y":-2.89},{"x":2.05,"y":-2.48},{"x":2.07,"y":-2.94},{"x":2.08,"y":-2.25},{"x":2.09,"y":-2.90},{"x":2.11,"y":-2.96},{"x":2.12,"y":-2.96},{"x":2.14,"y":-2.79},{"x":2.15,"y":-2.23},{"x":2.16,"y":-2.83},{"x":2.17,"y":-2.96},{"x":2.18,"y":-2.89},{"x":2.19,"y":-3.01},{"x":2.20,"y":-2.77},{"x":2.21,"y":-2.11},{"x":2.22,"y":-2.94},{"x":2.22,"y":-3.11},{"x":2.23,"y":-3.27},{"x":2.24,"y":-2.52},{"x":2.24,"y":-2.65},{"x":2.25,"y":-3.12},{"x":2.26,"y":-3.42},{"x":2.26,"y":-2.98},{"x":2.27,"y":-2.96},{"x":2.28,"y":-2.76},{"x":2.28,"y":-2.52},{"x":2.29,"y":-3.27},{"x":2.29,"y":-2.61},{"x":2.30,"y":-3.49},{"x":2.31,"y":-2.98},{"x":2.31,"y":-2.72},{"x":2.32,"y":-1.81},{"x":2.33,"y":-3.05},{"x":2.33,"y":-3.01},{"x":2.34,"y":-3.42},{"x":2.35,"y":-2.87},{"x":2.35,"y":-2.68},{"x":2.36,"y":-3.82},{"x":2.37,"y":-2.98},{"x":2.37,"y":-2.94},{"x":2.38,"y":-4.11},{"x":2.39,"y":-4.31},{"x":2.39,"y":-2.87},{"x":2.40,"y":-2.03},{"x":2.41,"y":-3.01},{"x":2.41,"y":-2.61},{"x":2.42,"y":-3.26},{"x":2.43,"y":-3.27},{"x":2.43,"y":-2.48},{"x":2.44,"y":-2.68},{"x":2.44,"y":-3.27},{"x":2.45,"y":-3.29},{"x":2.46,"y":-3.05},{"x":2.46,"y":-1.99},{"x":2.47,"y":-2.46},{"x":2.48,"y":-2.57},{"x":2.48,"y":-2.79},{"x":2.49,"y":-2.54},{"x":2.50,"y":-2.43},{"x":2.50,"y":-2.65},{"x":2.51,"y":-2.87},{"x":2.52,"y":-2.54},{"x":2.52,"y":-3.64},{"x":2.53,"y":-3.05},{"x":2.54,"y":-2.14},{"x":2.54,"y":-2.68},{"x":2.55,"y":-2.60},{"x":2.56,"y":-2.83},{"x":2.56,"y":-3.12},{"x":2.57,"y":-2.94},{"x":2.58,"y":-3.50},{"x":2.58,"y":-3.05},{"x":2.59,"y":-2.77},{"x":2.60,"y":-3.49},{"x":2.61,"y":-2.28},{"x":2.62,"y":-2.30},{"x":2.63,"y":-2.98},{"x":2.64,"y":-3.49},{"x":2.65,"y":-2.90},{"x":2.66,"y":-2.68},{"x":2.67,"y":-3.09},{"x":2.69,"y":-3.56},{"x":2.70,"y":-3.05},{"x":2.71,"y":-3.12},{"x":2.71,"y":-3.16},{"x":2.73,"y":-2.39},{"x":2.74,"y":-3.18},{"x":2.75,"y":-4.04},{"x":2.75,"y":-4.22},{"x":2.75,"y":-3.48},{"x":2.76,"y":-3.09},{"x":2.77,"y":-2.98},{"x":2.78,"y":-2.28},{"x":2.78,"y":-3.67},{"x":2.79,"y":-3.16},{"x":2.81,"y":-2.79},{"x":2.82,"y":-3.11},{"x":2.83,"y":-3.04},{"x":2.84,"y":-3.20},{"x":2.85,"y":-3.43},{"x":2.86,"y":-3.62},{"x":2.87,"y":-3.49},{"x":2.88,"y":-2.25},{"x":2.89,"y":-2.52},{"x":2.90,"y":-3.18},{"x":2.92,"y":-3.21},{"x":2.93,"y":-3.86},{"x":2.94,"y":-2.76},{"x":2.96,"y":-2.83},{"x":2.98,"y":-2.92},{"x":3.00,"y":-2.94},{"x":3.01,"y":-2.98},{"x":3.04,"y":-3.99},{"x":3.08,"y":-3.48},{"x":3.11,"y":-3.78},{"x":2.76,"y":-1.11},{"x":2.12,"y":-2.87},{"x":2.32,"y":-3.12},{"x":2.52,"y":-2.98},{"x":2.71,"y":-2.90},{"x":2.45,"y":-2.83},{"x":2.26,"y":-2.83}],
"fitF": [{"x":1.2,"y":-2.384},{"x":3.2,"y":-3.239}],
"bandF": [{"x":1.2,"y":-2.084,"bound":"upper"},{"x":1.6,"y":-2.339,"bound":"upper"},{"x":2.0,"y":-2.587,"bound":"upper"},{"x":2.4,"y":-2.811,"bound":"upper"},{"x":2.8,"y":-2.962,"bound":"upper"},{"x":3.2,"y":-3.063,"bound":"upper"},{"x":1.2,"y":-2.684,"bound":"lower"},{"x":1.6,"y":-2.771,"bound":"lower"},{"x":2.0,"y":-2.865,"bound":"lower"},{"x":2.4,"y":-2.983,"bound":"lower"},{"x":2.8,"y":-3.174,"bound":"lower"},{"x":3.2,"y":-3.415,"bound":"lower"}]
},
"concat": [
{
 "width": 202, "height": 157,
 "title": {"text": "A", "dx": -63, "dy": 11.6},
 "resolve": {"axis": {"y": "independent"}},
 "layer": [
  {"data": {"name": "ptsA"}, "mark": {"type": "circle"},
   "encoding": {
    "x": {"field": "x", "type": "quantitative", "scale": {"domain": [2.2, 4.0], "nice": false, "zero": false},
          "axis": {"title": "Total body fat (% body weight, log scale)", "values": [2.2, 2.8, 3.4, 4.0], "labelExpr": "['9.03','16.45','29.96','54.59'][round((datum.value-2.2)/0.6)]", "labelPadding": 5, "titleX": 120, "titleY": 33}},
    "y": {"field": "y", "type": "quantitative", "scale": {"domain": [0.5, 3.5], "nice": false, "zero": false},
          "axis": {"title": "(arb. Units, log scale)", "values": [0.5, 1, 1.5, 2, 2.5, 3, 3.5], "labelExpr": "format(exp(datum.value),'.2f')", "titleX": -42, "titleY": 80}}}},
  {"data": {"name": "fitA"}, "mark": {"type": "line", "strokeWidth": 1.3},
   "encoding": {
    "x": {"field": "x", "type": "quantitative", "scale": {"domain": [2.2, 4.0], "nice": false, "zero": false}, "axis": null},
    "y": {"field": "y", "type": "quantitative", "scale": {"domain": [0.5, 3.5], "nice": false, "zero": false},
          "axis": {"orient": "left", "title": "Insulin sensitivity", "titleFontWeight": "bold", "labels": false, "ticks": false, "domain": false, "titleX": -51, "titleY": 137, "titleAlign": "left"}}}},
  {"data": {"name": "bandA"}, "mark": {"type": "line", "strokeWidth": 1, "strokeDash": [2, 1.5]},
   "encoding": {
    "x": {"field": "x", "type": "quantitative", "scale": {"domain": [2.2, 4.0], "nice": false, "zero": false}, "axis": null},
    "y": {"field": "y", "type": "quantitative", "scale": {"domain": [0.5, 3.5], "nice": false, "zero": false},
          "axis": {"orient": "left", "title": "OGTT", "titleFontWeight": "bold", "titleFontSize": 8, "labels": false, "ticks": false, "domain": false, "titleX": -49, "titleY": 44, "titleAlign": "left"}},
    "detail": {"field": "bound"}}},
  {"data": {"values": [{"x": 2.27, "y": 3.65, "label": "r= -0.27, p<0.0001"}]}, "mark": {"type": "text", "align": "left", "baseline": "middle"},
   "encoding": {
    "x": {"field": "x", "type": "quantitative", "scale": {"domain": [2.2, 4.0], "nice": false, "zero": false}, "axis": null},
    "y": {"field": "y", "type": "quantitative", "scale": {"domain": [0.5, 3.5], "nice": false, "zero": false}, "axis": null},
    "text": {"field": "label"}}}
 ]
},
{
 "width": 202, "height": 157,
 "title": {"text": "D", "dx": -82, "dy": 10.5},
 "resolve": {"axis": {"y": "independent"}},
 "layer": [
  {"data": {"name": "ptsD"}, "mark": {"type": "circle"},
   "encoding": {
    "x": {"field": "x", "type": "quantitative", "scale": {"domain": [2.2, 4.0], "nice": false, "zero": false},
          "axis": {"title": "Total body fat (% body weight, log scale)", "values": [2.2, 2.8, 3.4, 4.0], "labelExpr": "['9.03','16.45','29.96','54.59'][round((datum.value-2.2)/0.6)]", "labelPadding": 5, "titleX": 113, "titleY": 33}},
    "y": {"field": "y", "type": "quantitative", "scale": {"domain": [-4.5, -1], "nice": false, "zero": false},
          "axis": {"title": "((µM·kg⁻¹·min⁻¹·pM⁻¹, log scale)", "titleFontSize": 10, "labelFontSize": 10, "labelPadding": 8, "values": [-4.5, -4, -3.5, -3, -2.5, -2, -1.5, -1], "labelExpr": "format(exp(datum.value),'.3f')", "titleX": -58.5, "titleY": 68}}}},
  {"data": {"name": "fitD"}, "mark": {"type": "line", "strokeWidth": 1.3},
   "encoding": {
    "x": {"field": "x", "type": "quantitative", "scale": {"domain": [2.2, 4.0], "nice": false, "zero": false}, "axis": null},
    "y": {"field": "y", "type": "quantitative", "scale": {"domain": [-4.5, -1], "nice": false, "zero": false},
          "axis": {"orient": "left", "title": "Insulin sensitivity", "titleFontWeight": "bold", "labels": false, "ticks": false, "domain": false, "titleX": -67.5, "titleY": 131, "titleAlign": "left"}}}},
  {"data": {"name": "bandD"}, "mark": {"type": "line", "strokeWidth": 1, "strokeDash": [2, 1.5]},
   "encoding": {
    "x": {"field": "x", "type": "quantitative", "scale": {"domain": [2.2, 4.0], "nice": false, "zero": false}, "axis": null},
    "y": {"field": "y", "type": "quantitative", "scale": {"domain": [-4.5, -1], "nice": false, "zero": false},
          "axis": {"orient": "left", "title": "Clamp", "titleFontWeight": "bold", "titleFontSize": 8, "labels": false, "ticks": false, "domain": false, "titleX": -65, "titleY": 37.5, "titleAlign": "left"}},
    "detail": {"field": "bound"}}},
  {"data": {"values": [{"x": 2.31, "y": -0.85, "label": "r= -0.20, p=0.01"}]}, "mark": {"type": "text", "align": "left", "baseline": "middle"},
   "encoding": {
    "x": {"field": "x", "type": "quantitative", "scale": {"domain": [2.2, 4.0], "nice": false, "zero": false}, "axis": null},
    "y": {"field": "y", "type": "quantitative", "scale": {"domain": [-4.5, -1], "nice": false, "zero": false}, "axis": null},
    "text": {"field": "label"}}}
 ]
},
{
 "width": 202, "height": 157,
 "title": {"text": "B", "dx": -60, "dy": 1.9},
 "resolve": {"axis": {"y": "independent"}},
 "layer": [
  {"data": {"name": "ptsB"}, "mark": {"type": "circle"},
   "encoding": {
    "x": {"field": "x", "type": "quantitative", "scale": {"domain": [-0.5, 2.5], "nice": false, "zero": false},
          "axis": {"title": "Visceral fat (% body weight, log scale)", "values": [-0.5, 0, 0.5, 1, 1.5, 2, 2.5], "labelExpr": "['0.61','1.0','1.65','2.72','4.48','7.39','12.18'][round((datum.value+0.5)/0.5)]", "labelPadding": 4, "titleX": 108, "titleY": 33}},
    "y": {"field": "y", "type": "quantitative", "scale": {"domain": [0.5, 3.5], "nice": false, "zero": false},
          "axis": {"title": "(arb. Units, log scale)", "values": [0.5, 1, 1.5, 2, 2.5, 3, 3.5], "labelExpr": "format(exp(datum.value),'.2f')", "titleX": -42, "titleY": 80}}}},
  {"data": {"name": "fitB"}, "mark": {"type": "line", "strokeWidth": 1.3},
   "encoding": {
    "x": {"field": "x", "type": "quantitative", "scale": {"domain": [-0.5, 2.5], "nice": false, "zero": false}, "axis": null},
    "y": {"field": "y", "type": "quantitative", "scale": {"domain": [0.5, 3.5], "nice": false, "zero": false},
          "axis": {"orient": "left", "title": "Insulin sensitivity", "titleFontWeight": "bold", "labels": false, "ticks": false, "domain": false, "titleX": -51, "titleY": 137, "titleAlign": "left"}}}},
  {"data": {"name": "bandB"}, "mark": {"type": "line", "strokeWidth": 1, "strokeDash": [2, 1.5]},
   "encoding": {
    "x": {"field": "x", "type": "quantitative", "scale": {"domain": [-0.5, 2.5], "nice": false, "zero": false}, "axis": null},
    "y": {"field": "y", "type": "quantitative", "scale": {"domain": [0.5, 3.5], "nice": false, "zero": false},
          "axis": {"orient": "left", "title": "OGTT", "titleFontWeight": "bold", "titleFontSize": 8, "labels": false, "ticks": false, "domain": false, "titleX": -49, "titleY": 44, "titleAlign": "left"}},
    "detail": {"field": "bound"}}},
  {"data": {"values": [{"x": 1.41, "y": 3.545, "label": "r= -0.43, p<0.0001"}]}, "mark": {"type": "text", "align": "left", "baseline": "middle"},
   "encoding": {
    "x": {"field": "x", "type": "quantitative", "scale": {"domain": [-0.5, 2.5], "nice": false, "zero": false}, "axis": null},
    "y": {"field": "y", "type": "quantitative", "scale": {"domain": [0.5, 3.5], "nice": false, "zero": false}, "axis": null},
    "text": {"field": "label"}}}
 ]
},
{
 "width": 202, "height": 157,
 "title": {"text": "E", "dx": -82, "dy": 2},
 "resolve": {"axis": {"y": "independent"}},
 "layer": [
  {"data": {"name": "ptsE"}, "mark": {"type": "circle"},
   "encoding": {
    "x": {"field": "x", "type": "quantitative", "scale": {"domain": [-0.5, 2.5], "nice": false, "zero": false},
          "axis": {"title": "Visceral fat (% body weight, log scale)", "values": [-0.5, 0, 0.5, 1, 1.5, 2, 2.5], "labelExpr": "['0.61','1.0','1.65','2.72','4.48','7.39','12.18'][round((datum.value+0.5)/0.5)]", "labelPadding": 1.5, "titleX": 99, "titleY": 23.5}},
    "y": {"field": "y", "type": "quantitative", "scale": {"domain": [-4.5, -1], "nice": false, "zero": false},
          "axis": {"title": "((µM·kg⁻¹·min⁻¹·pM⁻¹, log scale)", "titleFontSize": 10, "labelFontSize": 10, "labelPadding": 8, "values": [-4.5, -4, -3.5, -3, -2.5, -2, -1.5, -1], "labelExpr": "format(exp(datum.value),'.3f')", "titleX": -58, "titleY": 64}}}},
  {"data": {"name": "fitE"}, "mark": {"type": "line", "strokeWidth": 1.3},
   "encoding": {
    "x": {"field": "x", "type": "quantitative", "scale": {"domain": [-0.5, 2.5], "nice": false, "zero": false}, "axis": null},
    "y": {"field": "y", "type": "quantitative", "scale": {"domain": [-4.5, -1], "nice": false, "zero": false},
          "axis": {"orient": "left", "title": "Insulin sensitivity", "titleFontWeight": "bold", "labels": false, "ticks": false, "domain": false, "titleX": -67, "titleY": 124, "titleAlign": "left"}}}},
  {"data": {"name": "bandE"}, "mark": {"type": "line", "strokeWidth": 1, "strokeDash": [2, 1.5]},
   "encoding": {
    "x": {"field": "x", "type": "quantitative", "scale": {"domain": [-0.5, 2.5], "nice": false, "zero": false}, "axis": null},
    "y": {"field": "y", "type": "quantitative", "scale": {"domain": [-4.5, -1], "nice": false, "zero": false},
          "axis": {"orient": "left", "title": "Clamp", "titleFontWeight": "bold", "titleFontSize": 8, "labels": false, "ticks": false, "domain": false, "titleX": -64.5, "titleY": 30.5, "titleAlign": "left"}},
    "detail": {"field": "bound"}}},
  {"data": {"values": [{"x": 0.98, "y": -1.02, "label": "r= -0.50, p<0.0001"}]}, "mark": {"type": "text", "align": "left", "baseline": "middle"},
   "encoding": {
    "x": {"field": "x", "type": "quantitative", "scale": {"domain": [-0.5, 2.5], "nice": false, "zero": false}, "axis": null},
    "y": {"field": "y", "type": "quantitative", "scale": {"domain": [-4.5, -1], "nice": false, "zero": false}, "axis": null},
    "text": {"field": "label"}}}
 ]
},
{
 "width": 202, "height": 157,
 "title": {"text": "C", "dx": -63, "dy": 8.5},
 "resolve": {"axis": {"y": "independent"}},
 "layer": [
  {"data": {"name": "ptsC"}, "mark": {"type": "circle"},
   "encoding": {
    "x": {"field": "x", "type": "quantitative", "scale": {"domain": [1.2, 3.2], "nice": false, "zero": false},
          "axis": {"title": "Subcutanous fat (% body weight, log scale)", "values": [1.2, 1.4, 1.6, 1.8, 2.0, 2.2, 2.4, 2.6, 2.8, 3.0, 3.2], "labelExpr": "abs(datum.value-2)<0.01 ? '7.39' : (abs(datum.value-3)<0.01 ? '20.09' : '')", "labelPadding": 3.5, "titleX": 102.7, "titleY": 28.5}},
    "y": {"field": "y", "type": "quantitative", "scale": {"domain": [0.5, 3.5], "nice": false, "zero": false},
          "axis": {"title": "(arb. Units, log scale)", "values": [0.5, 1, 1.5, 2, 2.5, 3, 3.5], "labelExpr": "format(exp(datum.value),'.2f')", "titleX": -42, "titleY": 80}}}},
  {"data": {"name": "fitC"}, "mark": {"type": "line", "strokeWidth": 1.3},
   "encoding": {
    "x": {"field": "x", "type": "quantitative", "scale": {"domain": [1.2, 3.2], "nice": false, "zero": false}, "axis": null},
    "y": {"field": "y", "type": "quantitative", "scale": {"domain": [0.5, 3.5], "nice": false, "zero": false},
          "axis": {"orient": "left", "title": "Insulin sensitivity", "titleFontWeight": "bold", "labels": false, "ticks": false, "domain": false, "titleX": -51.5, "titleY": 137, "titleAlign": "left"}}}},
  {"data": {"name": "bandC"}, "mark": {"type": "line", "strokeWidth": 1, "strokeDash": [2, 1.5]},
   "encoding": {
    "x": {"field": "x", "type": "quantitative", "scale": {"domain": [1.2, 3.2], "nice": false, "zero": false}, "axis": null},
    "y": {"field": "y", "type": "quantitative", "scale": {"domain": [0.5, 3.5], "nice": false, "zero": false},
          "axis": {"orient": "left", "title": "OGTT", "titleFontWeight": "bold", "titleFontSize": 8, "labels": false, "ticks": false, "domain": false, "titleX": -49.5, "titleY": 44, "titleAlign": "left"}},
    "detail": {"field": "bound"}}},
  {"data": {"values": [{"x": 1.355, "y": 3.595, "label": "r= -0.34, p<0.0001"}]}, "mark": {"type": "text", "align": "left", "baseline": "middle"},
   "encoding": {
    "x": {"field": "x", "type": "quantitative", "scale": {"domain": [1.2, 3.2], "nice": false, "zero": false}, "axis": null},
    "y": {"field": "y", "type": "quantitative", "scale": {"domain": [0.5, 3.5], "nice": false, "zero": false}, "axis": null},
    "text": {"field": "label"}}}
 ]
},
{
 "width": 202, "height": 157,
 "title": {"text": "F", "dx": -82, "dy": 2.1},
 "resolve": {"axis": {"y": "independent"}},
 "layer": [
  {"data": {"name": "ptsF"}, "mark": {"type": "circle"},
   "encoding": {
    "x": {"field": "x", "type": "quantitative", "scale": {"domain": [1.2, 3.2], "nice": false, "zero": false},
          "axis": {"title": "Subcutanous fat (% body weight, log scale)", "values": [1.2, 1.4, 1.6, 1.8, 2.0, 2.2, 2.4, 2.6, 2.8, 3.0, 3.2], "labelExpr": "abs(datum.value-2)<0.01 ? '7.39' : (abs(datum.value-3)<0.01 ? '20.09' : '')", "labelPadding": 4, "titleX": 100.7, "titleY": 27.5}},
    "y": {"field": "y", "type": "quantitative", "scale": {"domain": [-4.5, -1], "nice": false, "zero": false},
          "axis": {"title": "((µM·kg⁻¹·min⁻¹·pM⁻¹, log scale)", "titleFontSize": 10, "labelFontSize": 10, "labelPadding": 8, "values": [-4.5, -4, -3.5, -3, -2.5, -2, -1.5, -1], "labelExpr": "format(exp(datum.value),'.3f')", "titleX": -58, "titleY": 80}}}},
  {"data": {"name": "fitF"}, "mark": {"type": "line", "strokeWidth": 1.3},
   "encoding": {
    "x": {"field": "x", "type": "quantitative", "scale": {"domain": [1.2, 3.2], "nice": false, "zero": false}, "axis": null},
    "y": {"field": "y", "type": "quantitative", "scale": {"domain": [-4.5, -1], "nice": false, "zero": false},
          "axis": {"orient": "left", "title": "Insulin sensitivity", "titleFontWeight": "bold", "labels": false, "ticks": false, "domain": false, "titleX": -67.5, "titleY": 138, "titleAlign": "left"}}}},
  {"data": {"name": "bandF"}, "mark": {"type": "line", "strokeWidth": 1, "strokeDash": [2, 1.5]},
   "encoding": {
    "x": {"field": "x", "type": "quantitative", "scale": {"domain": [1.2, 3.2], "nice": false, "zero": false}, "axis": null},
    "y": {"field": "y", "type": "quantitative", "scale": {"domain": [-4.5, -1], "nice": false, "zero": false},
          "axis": {"orient": "left", "title": "Clamp", "titleFontWeight": "bold", "titleFontSize": 8, "labels": false, "ticks": false, "domain": false, "titleX": -65, "titleY": 44.5, "titleAlign": "left"}},
    "detail": {"field": "bound"}}},
  {"data": {"values": [{"x": 1.343, "y": -0.987, "label": "r= -0.28, p=0.0005"}]}, "mark": {"type": "text", "align": "left", "baseline": "middle"},
   "encoding": {
    "x": {"field": "x", "type": "quantitative", "scale": {"domain": [1.2, 3.2], "nice": false, "zero": false}, "axis": null},
    "y": {"field": "y", "type": "quantitative", "scale": {"domain": [-4.5, -1], "nice": false, "zero": false}, "axis": null},
    "text": {"field": "label"}}}
 ]
}
]
}
